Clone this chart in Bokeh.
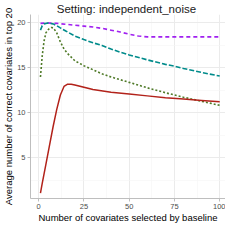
from bokeh.plotting import figure
from bokeh.models import Range1d, FixedTicker
from bokeh.embed import file_html
from bokeh.resources import INLINE

# ---- data ----
x_red = [1, 2, 4, 6, 8, 10, 12, 14, 16, 18, 20, 25, 30, 40, 50, 60, 70, 80, 90, 100]
y_red = [1.1, 2.2, 4.3, 6.4, 8.5, 10.4, 12.0, 12.95, 13.2, 13.2, 13.1, 12.85, 12.6, 12.3, 12.1, 11.9, 11.7, 11.55, 11.4, 11.25]

x_green = [1, 2, 3, 4, 5, 6, 7, 8, 9, 10, 12, 14, 16, 18, 20, 25, 30, 35, 40, 45, 50, 60, 70, 80, 90, 100]
y_green = [14.0, 16.4, 18.0, 18.9, 19.2, 19.4, 19.5, 19.45, 19.2, 18.9, 17.9, 17.1, 16.6, 16.2, 15.8, 15.25, 14.8, 14.35, 14.0, 13.7, 13.4, 12.8, 12.25, 11.75, 11.3, 10.85]

x_teal = [1, 2, 3, 5, 8, 10, 12, 15, 20, 25, 30, 35, 40, 45, 50, 60, 70, 75, 80, 90, 100]
y_teal = [19.2, 19.7, 19.9, 20.0, 19.9, 19.7, 19.45, 19.1, 18.55, 18.15, 17.8, 17.5, 17.1, 16.75, 16.45, 15.9, 15.4, 15.2, 14.95, 14.5, 14.1]

x_purple = [1, 5, 10, 15, 20, 25, 30, 35, 40, 45, 50, 55, 60, 70, 80, 90, 100]
y_purple = [19.95, 20.0, 19.95, 19.85, 19.75, 19.65, 19.55, 19.4, 19.2, 19.0, 18.75, 18.55, 18.45, 18.45, 18.45, 18.45, 18.45]

x_ticks = [0, 25, 50, 75, 100]
y_ticks = [5, 10, 15, 20]
x_minor = [12.5, 37.5, 62.5, 87.5]
y_minor = [2.5, 7.5, 12.5, 17.5]

title_text = "Setting:  independent_noise"
x_label = "Number of covariates selected by baseline"
y_label = "Average number of correct covariates in top 20"

FONT = "Liberation Sans"

p = figure(width=225, height=225, output_backend="svg", toolbar_location=None,
           x_range=Range1d(-4.5, 103.2), y_range=Range1d(0.5, 20.94),
           title=title_text,
           min_border_left=0, min_border_right=0, min_border_top=0, min_border_bottom=0)

p.title.align = "center"
p.title.text_font = FONT
p.title.text_font_size = "11.5px"
p.title.text_font_style = "normal"
p.title.standoff = 0
p.title.offset = 0
p.title.text_color = "#1A1A1A"

p.outline_line_color = None
p.background_fill_color = "white"
p.border_fill_color = "white"

for ax in (p.xaxis[0], p.yaxis[0]):
    ax.axis_line_color = "#BEBEBE"
    ax.axis_line_width = 1
    ax.major_tick_line_color = "#BEBEBE"
    ax.major_tick_out = 3
    ax.major_tick_in = 0
    ax.minor_tick_line_color = None
    ax.major_label_text_font = FONT
    ax.major_label_text_font_size = "7.5px"
    ax.major_label_text_color = "#4D4D4D"
    ax.major_label_standoff = 1
    ax.axis_label_text_font = FONT
    ax.axis_label_text_font_size = "9.5px"
    ax.axis_label_text_font_style = "normal"
    ax.axis_label_text_color = "black"
    ax.axis_label_standoff = 0

p.xaxis[0].ticker = FixedTicker(ticks=x_ticks, minor_ticks=x_minor)
p.yaxis[0].ticker = FixedTicker(ticks=y_ticks, minor_ticks=y_minor)
p.xaxis.axis_label = x_label
p.yaxis.axis_label = y_label

for g in (p.xgrid[0], p.ygrid[0]):
    g.grid_line_color = "#EBEBEB"
    g.grid_line_width = 1
    g.minor_grid_line_color = "#F5F5F5"
    g.minor_grid_line_width = 0.6

p.line(x_purple, y_purple, line_color="#A020F0", line_width=1.6, line_dash="4 3")
p.line(x_teal, y_teal, line_color="#008B8B", line_width=1.6, line_dash="5 2")
p.line(x_green, y_green, line_color="#4F7A28", line_width=1.6, line_dash="2 2")
p.line(x_red, y_red, line_color="#B2221A", line_width=1.5)

open("out.html", "w").write(file_html(p, INLINE))
